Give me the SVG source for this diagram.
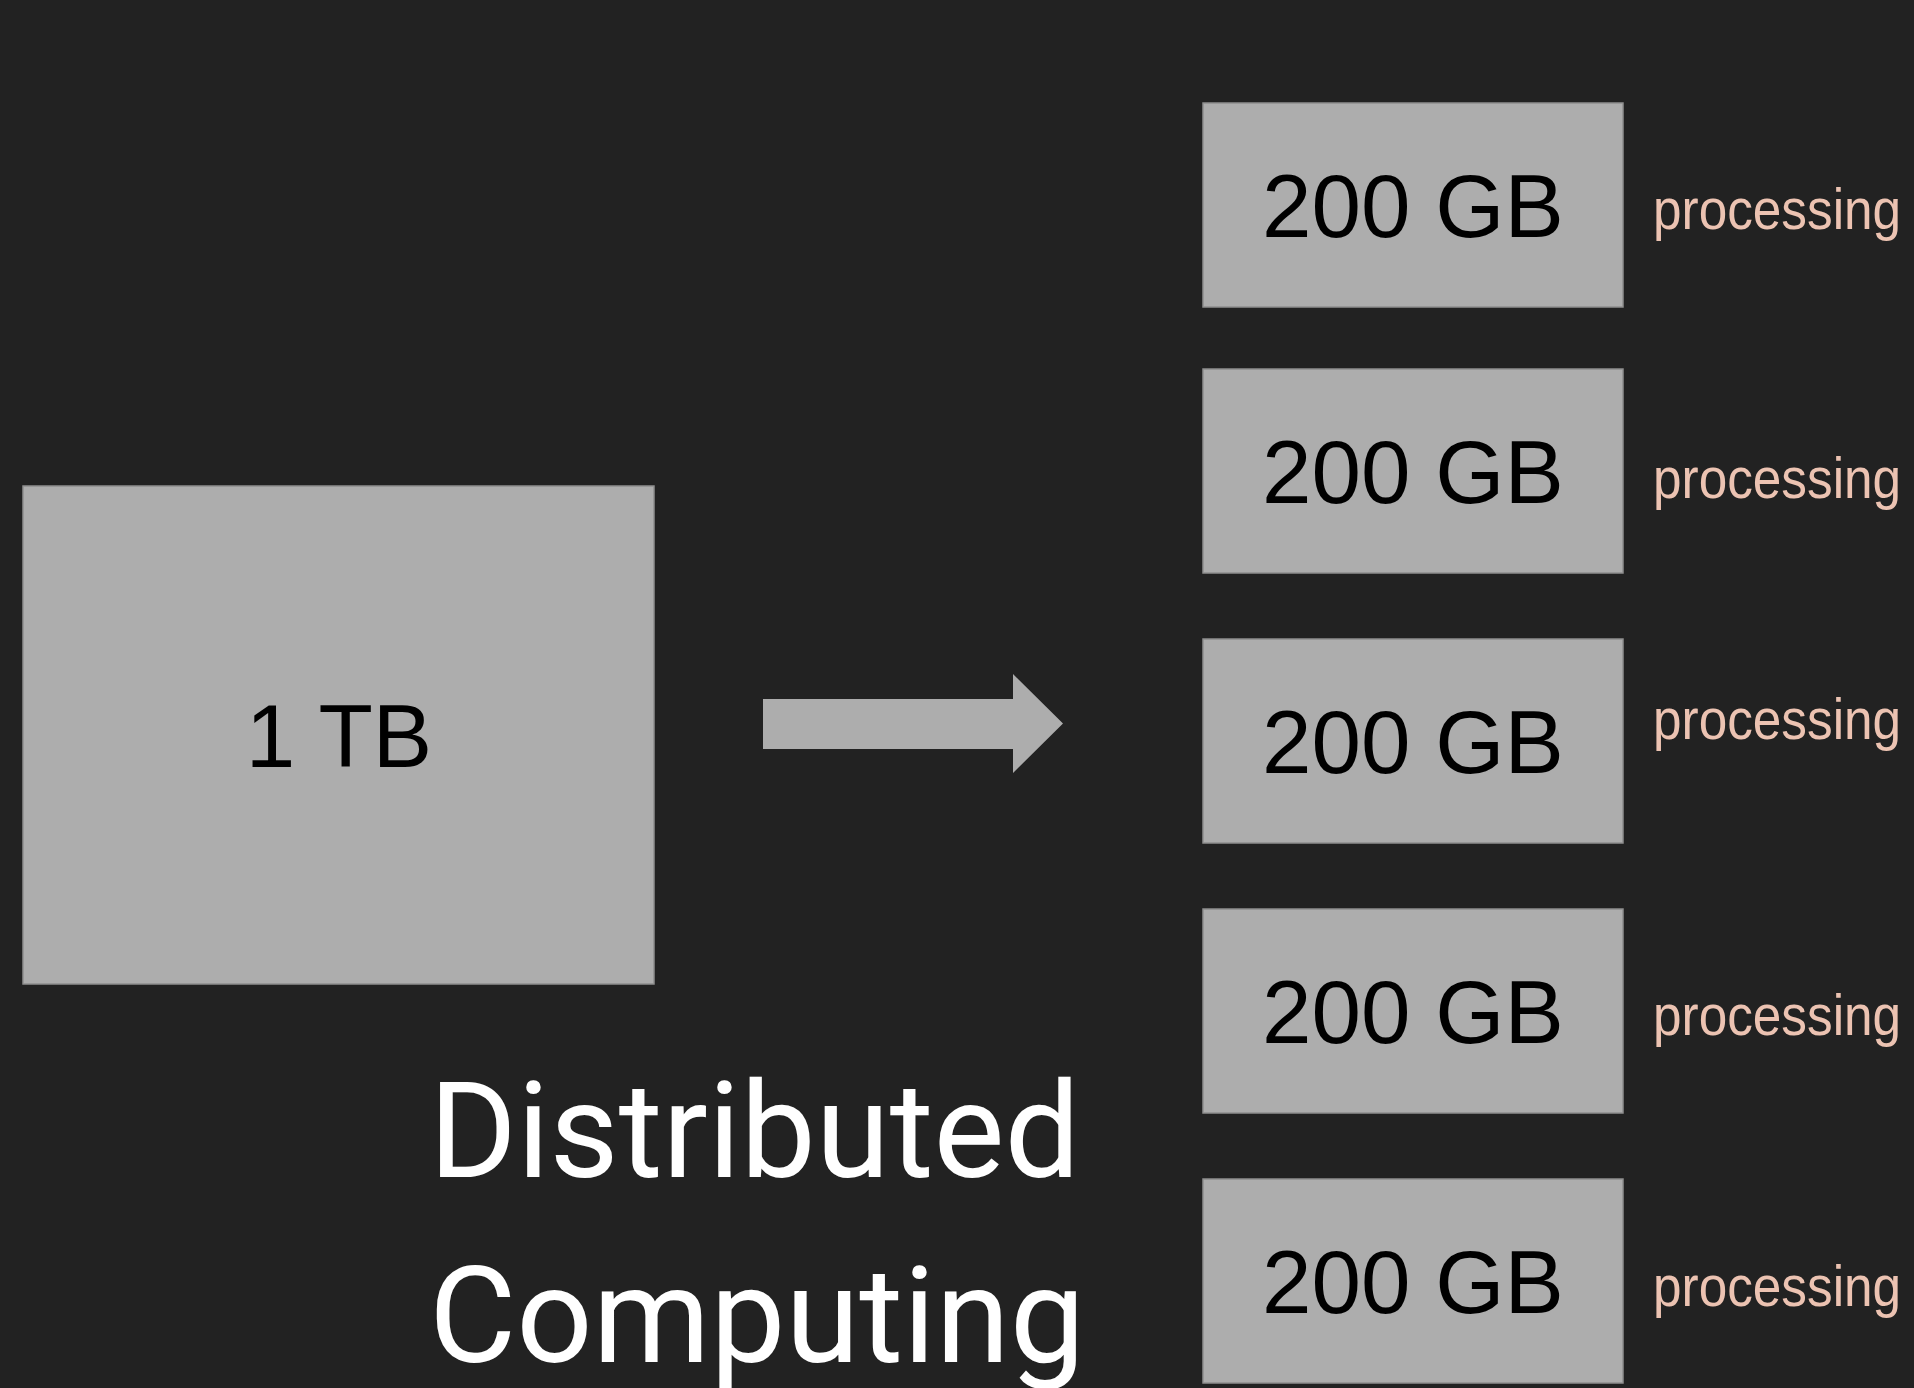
<svg xmlns="http://www.w3.org/2000/svg" width="1914" height="1388" viewBox="0 0 1914 1388">
  <style>
    .box { fill: #adadad; stroke: #8f8f8f; stroke-width: 1.5; }
    .lbl { font-family: "Liberation Sans", Arial, sans-serif; font-size: 89px; fill: #000000; text-anchor: middle; }
    .proc { font-family: "Liberation Sans", Arial, sans-serif; font-size: 58px; fill: #ecc3b2; }
    .title { font-family: Roboto, "Noto Sans", sans-serif; font-size: 134px; fill: #ffffff; }
  </style>
  <rect x="0" y="0" width="1914" height="1388" fill="#222222"/>

  <g id="source">
    <rect class="box" x="23" y="486" width="631" height="498"/>
    <text class="lbl" x="339" y="767">1 TB</text>
  </g>

  <g id="connectors">
    <polygon points="763,699 1013,699 1013,674 1063,723.5 1013,773 1013,749 763,749" fill="#adadad"/>
  </g>

  <g id="part1">
    <rect class="box" x="1203" y="103" width="420" height="204"/>
    <text class="lbl" x="1413" y="237">200 GB</text>
    <text class="proc" transform="translate(1653,229) scale(0.885,1)" x="0" y="0">processing</text>
  </g>
  <g id="part2">
    <rect class="box" x="1203" y="369" width="420" height="204"/>
    <text class="lbl" x="1413" y="503">200 GB</text>
    <text class="proc" transform="translate(1653,498) scale(0.885,1)" x="0" y="0">processing</text>
  </g>
  <g id="part3">
    <rect class="box" x="1203" y="639" width="420" height="204"/>
    <text class="lbl" x="1413" y="773">200 GB</text>
    <text class="proc" transform="translate(1653,739) scale(0.885,1)" x="0" y="0">processing</text>
  </g>
  <g id="part4">
    <rect class="box" x="1203" y="909" width="420" height="204"/>
    <text class="lbl" x="1413" y="1043">200 GB</text>
    <text class="proc" transform="translate(1653,1035) scale(0.885,1)" x="0" y="0">processing</text>
  </g>
  <g id="part5">
    <rect class="box" x="1203" y="1179" width="420" height="204"/>
    <text class="lbl" x="1413" y="1313">200 GB</text>
    <text class="proc" transform="translate(1653,1306) scale(0.885,1)" x="0" y="0">processing</text>
  </g>

  <g id="title">
    <text class="title" x="429" y="1177">Distributed</text>
    <text class="title" x="429" y="1362">Computing</text>
  </g>
</svg>
